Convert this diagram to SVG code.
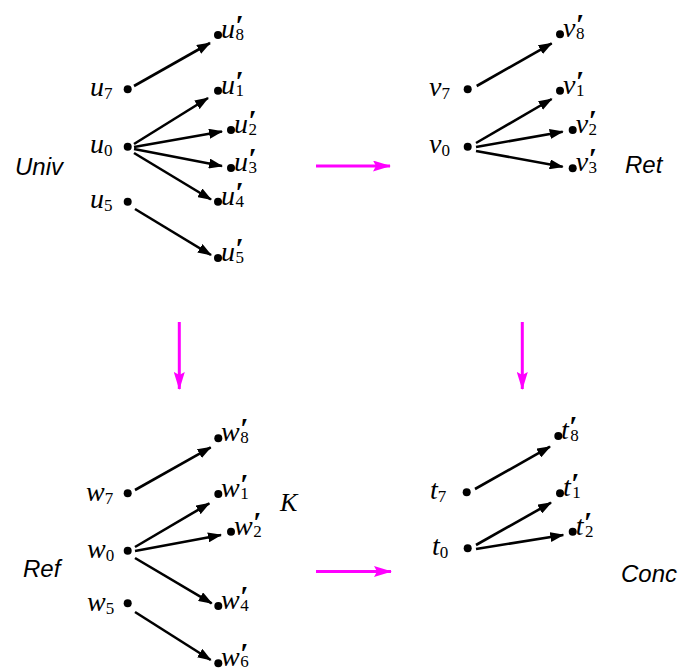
<svg xmlns="http://www.w3.org/2000/svg" width="683" height="670" viewBox="0 0 683 670">
<style>
.l{font-family:"Liberation Serif","Times New Roman",serif;font-style:italic;font-size:28px;fill:#000}
.s{font-family:"Liberation Serif","Times New Roman",serif;font-style:normal;font-weight:normal;font-size:17px}
.p{font-size:30px;font-weight:bold}
.t{font-family:"Liberation Sans",Arial,sans-serif;font-style:italic;font-size:24px;fill:#000}
.a{stroke:#000;stroke-width:2.6;fill:none;marker-end:url(#ah)}
.m{stroke:#ff00ff;stroke-width:3;fill:none;marker-end:url(#mh)}
circle{fill:#000}
</style>
<defs>
<marker id="ah" markerUnits="userSpaceOnUse" markerWidth="14" markerHeight="10" refX="13" refY="5" orient="auto"><path d="M0,0 L14,5 L0,10 z" fill="#000"/></marker>
<marker id="mh" markerUnits="userSpaceOnUse" markerWidth="18" markerHeight="11" refX="17" refY="5.5" orient="auto"><path d="M0,0 L18,5.5 L0,11 L3,5.5 z" fill="#ff00ff"/></marker>
</defs>
<rect width="683" height="670" fill="#fff"/>

<g id="titles">
<text class="t" x="15" y="175">Univ</text>
<text class="t" x="625" y="173">Ret</text>
<text class="t" x="23" y="577">Ref</text>
<text class="t" x="621" y="582">Conc</text>
<text class="l" x="280" y="511" style="font-size:26px">K</text>
</g>

<g id="connectors">
<line class="a" x1="134" y1="86" x2="210" y2="43"/>
<line class="a" x1="134" y1="144" x2="208" y2="98"/>
<line class="a" x1="134" y1="147" x2="222" y2="131.5"/>
<line class="a" x1="134" y1="149" x2="222" y2="166"/>
<line class="a" x1="134" y1="153" x2="211" y2="199.5"/>
<line class="a" x1="135" y1="209" x2="211" y2="255"/>
<line class="a" x1="476.7" y1="86" x2="551.7" y2="43.3"/>
<line class="a" x1="476" y1="143" x2="551.7" y2="99"/>
<line class="a" x1="476" y1="147" x2="562.7" y2="131.7"/>
<line class="a" x1="476" y1="151" x2="562.7" y2="166.7"/>
<line class="a" x1="135" y1="490" x2="210.7" y2="447.3"/>
<line class="a" x1="135" y1="547" x2="209.3" y2="503.3"/>
<line class="a" x1="135" y1="551" x2="221" y2="535"/>
<line class="a" x1="135" y1="558" x2="211.7" y2="603.3"/>
<line class="a" x1="135" y1="612" x2="210.7" y2="660"/>
<line class="a" x1="475" y1="489" x2="550" y2="446.7"/>
<line class="a" x1="476" y1="545" x2="551" y2="502.7"/>
<line class="a" x1="476" y1="549" x2="563.3" y2="535"/>
<line class="m" x1="316" y1="166" x2="390" y2="166"/>
<line class="m" x1="316" y1="571.5" x2="391" y2="571.5"/>
<line class="m" x1="179.3" y1="322" x2="179.3" y2="389"/>
<line class="m" x1="522.3" y1="322" x2="522.3" y2="389"/>
</g>

<!-- Univ -->
<g id="u7"><circle cx="127.7" cy="89.3" r="4"/><text class="l" x="90" y="95.5">u<tspan class="s" dy="3">7</tspan></text></g>
<g id="u0"><circle cx="127.7" cy="146.7" r="4"/><text class="l" x="90" y="153">u<tspan class="s" dy="3">0</tspan></text></g>
<g id="u5"><circle cx="127.7" cy="201.7" r="4"/><text class="l" x="90" y="208">u<tspan class="s" dy="3">5</tspan></text></g>
<g id="u8p"><circle cx="218" cy="35" r="4"/><text class="l" x="221" y="38">u<tspan class="p" dy="-3">′</tspan><tspan class="s" dx="-8" dy="5">8</tspan></text></g>
<g id="u1p"><circle cx="218" cy="90.7" r="4"/><text class="l" x="221" y="93.7">u<tspan class="p" dy="-3">′</tspan><tspan class="s" dx="-8" dy="5">1</tspan></text></g>
<g id="u2p"><circle cx="231" cy="130" r="4"/><text class="l" x="234" y="133">u<tspan class="p" dy="-3">′</tspan><tspan class="s" dx="-8" dy="5">2</tspan></text></g>
<g id="u3p"><circle cx="231" cy="168" r="4"/><text class="l" x="234" y="171">u<tspan class="p" dy="-3">′</tspan><tspan class="s" dx="-8" dy="5">3</tspan></text></g>
<g id="u4p"><circle cx="218" cy="201.7" r="4"/><text class="l" x="221" y="204.7">u<tspan class="p" dy="-3">′</tspan><tspan class="s" dx="-8" dy="5">4</tspan></text></g>
<g id="u5p"><circle cx="218" cy="258" r="4"/><text class="l" x="221" y="261">u<tspan class="p" dy="-3">′</tspan><tspan class="s" dx="-8" dy="5">5</tspan></text></g>

<!-- Ret -->
<g id="v7"><circle cx="467.7" cy="89.3" r="4"/><text class="l" x="429" y="95.5">v<tspan class="s" dy="3">7</tspan></text></g>
<g id="v0"><circle cx="467.7" cy="146.7" r="4"/><text class="l" x="429" y="153">v<tspan class="s" dy="3">0</tspan></text></g>
<g id="v8p"><circle cx="560" cy="34.3" r="4"/><text class="l" x="563" y="37.3">v<tspan class="p" dy="-3">′</tspan><tspan class="s" dx="-8" dy="5">8</tspan></text></g>
<g id="v1p"><circle cx="560" cy="90.7" r="4"/><text class="l" x="563" y="93.7">v<tspan class="p" dy="-3">′</tspan><tspan class="s" dx="-8" dy="5">1</tspan></text></g>
<g id="v2p"><circle cx="572.7" cy="130" r="4"/><text class="l" x="575.7" y="133">v<tspan class="p" dy="-3">′</tspan><tspan class="s" dx="-8" dy="5">2</tspan></text></g>
<g id="v3p"><circle cx="572.7" cy="168.3" r="4"/><text class="l" x="575.7" y="171.3">v<tspan class="p" dy="-3">′</tspan><tspan class="s" dx="-8" dy="5">3</tspan></text></g>

<!-- Ref -->
<g id="w7"><circle cx="127.7" cy="493.3" r="4"/><text class="l" x="86" y="501">w<tspan class="s" dy="3">7</tspan></text></g>
<g id="w0"><circle cx="127.7" cy="550.7" r="4"/><text class="l" x="87" y="558">w<tspan class="s" dy="3">0</tspan></text></g>
<g id="w5"><circle cx="127.7" cy="603.3" r="4"/><text class="l" x="87" y="611">w<tspan class="s" dy="3">5</tspan></text></g>
<g id="w8p"><circle cx="218.3" cy="438.3" r="4"/><text class="l" x="221" y="441.3">w<tspan class="p" dy="-3">′</tspan><tspan class="s" dx="-8" dy="5">8</tspan></text></g>
<g id="w1p"><circle cx="218.3" cy="494" r="4"/><text class="l" x="221" y="497">w<tspan class="p" dy="-3">′</tspan><tspan class="s" dx="-8" dy="5">1</tspan></text></g>
<g id="w2p"><circle cx="231" cy="531.7" r="4"/><text class="l" x="234" y="534.7">w<tspan class="p" dy="-3">′</tspan><tspan class="s" dx="-8" dy="5">2</tspan></text></g>
<g id="w4p"><circle cx="218.3" cy="606" r="4"/><text class="l" x="221" y="609">w<tspan class="p" dy="-3">′</tspan><tspan class="s" dx="-8" dy="5">4</tspan></text></g>
<g id="w6p"><circle cx="218.3" cy="663.3" r="4"/><text class="l" x="221" y="665.5">w<tspan class="p" dy="-3">′</tspan><tspan class="s" dx="-8" dy="4">6</tspan></text></g>

<!-- Conc -->
<g id="t7"><circle cx="466.7" cy="492.3" r="4"/><text class="l" x="430" y="499">t<tspan class="s" dy="3">7</tspan></text></g>
<g id="t0"><circle cx="467.7" cy="548.3" r="4"/><text class="l" x="432" y="555">t<tspan class="s" dy="3">0</tspan></text></g>
<g id="t8p"><circle cx="558.3" cy="436" r="4"/><text class="l" x="561" y="439">t<tspan class="p" dy="-3">′</tspan><tspan class="s" dx="-7" dy="5">8</tspan></text></g>
<g id="t1p"><circle cx="560" cy="493.3" r="4"/><text class="l" x="563" y="496.3">t<tspan class="p" dy="-3">′</tspan><tspan class="s" dx="-7" dy="5">1</tspan></text></g>
<g id="t2p"><circle cx="572.7" cy="531.7" r="4"/><text class="l" x="575.7" y="534.7">t<tspan class="p" dy="-3">′</tspan><tspan class="s" dx="-7" dy="5">2</tspan></text></g>
</svg>
